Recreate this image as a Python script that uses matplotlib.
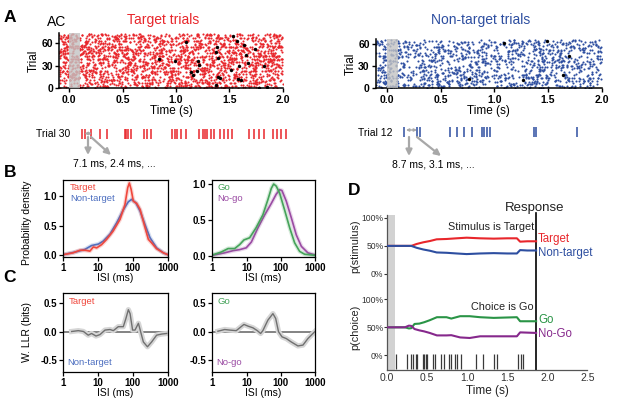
import numpy as np
import matplotlib
matplotlib.use("Agg")
import matplotlib.pyplot as plt
import matplotlib.transforms as mtransforms
from matplotlib.patches import FancyArrowPatch

plt.rcParams['font.family'] = ['Liberation Sans', 'DejaVu Sans']

W, H = 617, 413

RED = '#e8262b'
BLUE = '#2d4ea0'
RED_B = '#f0473c'
BLUE_B = '#4d6fc0'
GREEN = '#2a9446'
GREEN_B = '#45a35a'
PURPLE = '#86288c'
PURPLE_B = '#9a4ba3'
GRAY = '#a8a8a8'

# ---------------- panel A ----------------
n_target_trials = 73
n_nontarget_trials = 66
trial30_spikes = [0.121, 0.146, 0.20, 0.287, 0.355, 0.52, 0.536, 0.551, 0.583,
                  0.698, 0.733, 0.77, 0.962, 0.988, 1.013, 1.044, 1.097, 1.22,
                  1.252, 1.268, 1.293, 1.33, 1.361, 1.408, 1.448, 1.486, 1.523,
                  1.688, 1.735, 1.782, 1.822, 1.906, 1.944, 1.985, 2.032]
trial12_spikes = [0.159, 0.28, 0.31, 0.585, 0.647, 0.718, 0.787, 0.88, 0.905,
                  0.927, 0.958, 1.368, 1.387, 1.767]
target_black_t = [1.097, 1.206, 0.994, 0.841, 1.144, 1.159, 1.2, 1.215, 1.378,
                  1.393, 1.38, 1.393, 1.408, 1.371, 1.533, 1.57, 1.642, 1.742,
                  1.658, 1.673, 1.595, 1.518, 1.58, 1.611, 1.829, 1.854, 1.782]
target_black_trial = [61.3, 35.8, 36.7, 39, 21, 17.9, 23.3, 30.9, 47.9, 40.3,
                      54.6, 15.6, 13.4, 4.4, 69.4, 62.7, 56.9, 52.4, 44.8, 33.6,
                      30, 23.7, 12.1, 11.2, 29, 2.2, 0.8]
nontarget_black_t = [0.765, 1.092, 1.493, 1.698, 1.269, 1.642]
nontarget_black_trial = [12.1, 61.4, 63.7, 43.5, 11.2, 17.9]

# ---------------- panel B ----------------
b_tgt_isi = [1, 1.9, 3.0, 4.2, 5.8, 7.3, 9.1, 12.6, 17.6, 27, 42.7, 59, 71, 79,
             89, 103, 129, 161, 223, 278, 345, 480, 754, 1000]
b_tgt_pd = [0.01, 0.04, 0.085, 0.085, 0.07, 0.14, 0.125, 0.18, 0.27, 0.41, 0.61,
            0.86, 1.15, 1.23, 1.12, 0.92, 0.88, 0.78, 0.47, 0.27, 0.21, 0.11,
            0.04, 0.01]
b_non_isi = [1, 2.4, 4.2, 6.5, 10.2, 14, 22, 34, 54, 74, 92, 122, 161, 223, 309,
             480, 754, 1000]
b_non_pd = [0.01, 0.06, 0.10, 0.165, 0.19, 0.24, 0.36, 0.55, 0.78, 0.91, 0.95,
            0.89, 0.75, 0.52, 0.30, 0.125, 0.04, 0.01]
b_go_isi = [1, 1.8, 2.9, 4.5, 6.3, 8.4, 12.3, 19, 30, 42, 53, 62, 74, 93, 129,
            182, 254, 356, 500, 1000]
b_go_pd = [0.01, 0.05, 0.10, 0.10, 0.155, 0.22, 0.25, 0.39, 0.57, 0.78, 0.94,
           1.0, 0.97, 0.87, 0.64, 0.39, 0.18, 0.06, 0.02, 0.005]
b_nogo_isi = [1, 2.3, 4.0, 6.3, 9.8, 13.8, 21.6, 34, 53, 74, 93, 108, 145, 203,
              284, 400, 620, 1000]
b_nogo_pd = [0.005, 0.04, 0.07, 0.085, 0.11, 0.19, 0.39, 0.57, 0.73, 0.86, 0.92,
             0.91, 0.76, 0.53, 0.29, 0.13, 0.04, 0.01]

# ---------------- panel C ----------------
c_stim_isi = [1.74, 2.7, 3.8, 5.2, 6.5, 8.7, 11.3, 15.8, 22, 27.4, 38, 53, 63,
              74, 83, 98, 115, 144, 167, 200, 262, 345, 480, 674, 940]
c_stim_llr = [0.005, 0.02, 0.005, -0.06, -0.03, -0.075, -0.05, 0.03, 0.04, 0.02,
              0.09, 0.09, 0.235, 0.39, 0.32, 0.03, 0.03, 0.15, 0.0, -0.18,
              -0.265, -0.18, -0.06, -0.04, -0.03]
c_choice_isi = [1.46, 2.3, 3.2, 5.0, 8.4, 11, 15.4, 20.6, 25.8, 30, 42, 59, 71,
                86, 109, 145, 203, 317, 445, 620, 980]
c_choice_llr = [0.01, 0.04, 0.03, 0.02, 0.13, 0.10, 0.07, 0.02, -0.03, 0.02,
                0.205, 0.32, 0.235, 0.0, -0.09, -0.12, -0.18, -0.25, -0.235,
                -0.12, 0.0]

# ---------------- panel D ----------------
d_time_stim = [0, 0.30, 0.367, 0.45, 0.534, 0.617, 0.742, 0.867, 0.992, 1.16,
               1.33, 1.5, 1.62, 1.66, 1.75, 1.86]
p_target = [50, 50, 53.4, 56.4, 58.7, 61.7, 62.3, 63.5, 64.6, 63.5, 62.9, 63.5,
            63.5, 57.5, 58.2, 58.2]
p_nontarget = [50, 50, 46.6, 43.6, 41.3, 38.3, 37.7, 36.5, 35.4, 36.5, 37.1,
               36.5, 36.5, 42.5, 41.8, 41.8]
d_time_choice = [0, 0.22, 0.27, 0.30, 0.34, 0.40, 0.46, 0.53, 0.62, 0.74, 0.80,
                 0.91, 1.03, 1.16, 1.33, 1.62, 1.66, 1.86]
p_go = [50, 50, 48, 48.5, 56, 56.6, 59, 62.6, 68, 68, 65.6, 69.8, 69.8, 68,
        66.8, 68, 60.8, 60.8]
p_nogo = [50, 50, 53, 52.5, 47, 44.6, 42.8, 40, 35.6, 35.6, 36, 32, 31, 34, 34,
          34, 41, 40]
d_spikes = [0.105, 0.24, 0.29, 0.325, 0.355, 0.37, 0.44, 0.46, 0.48, 0.50,
            0.575, 0.60, 0.67, 0.71, 0.77, 0.79, 0.84, 0.87, 0.92, 1.105, 1.20,
            1.33, 1.375, 1.63, 1.67, 1.70]
response_time = 1.86
choice_offset = -145   # choice block is drawn below the stimulus block


def box(x0, y0, x1, y1):
    return [x0 / W, 1 - y1 / H, (x1 - x0) / W, (y1 - y0) / H]


def fp(x, y):
    return (x / W, 1 - y / H)


def ftext(x, y, s, **kw):
    kw.setdefault('va', 'center')
    fig.text(x / W, 1 - y / H, s, **kw)


def arrow(p0, p1, style='-|>', ms=9, lw=1.6):
    a = FancyArrowPatch(fp(*p0), fp(*p1), transform=fig.transFigure,
                        arrowstyle=style, mutation_scale=ms, color=GRAY,
                        lw=lw, shrinkA=0, shrinkB=0)
    fig.add_artist(a)


def bold_ticks(ax, size):
    for lab in ax.get_xticklabels() + ax.get_yticklabels():
        lab.set_fontweight('bold')
        lab.set_fontsize(size)


fig = plt.figure(figsize=(W / 100, H / 100), dpi=100)

# ---------- A: rasters ----------
# raster dots are far too dense to read one by one, so they are a fixed-seed texture
rng = np.random.default_rng(3)


def raster(ax, n_trials, rate, color, t0):
    ts, ys = [], []
    for k in range(n_trials):
        n = rng.poisson(rate * (2.0 - t0))
        ts.append(rng.uniform(t0, 2.0, n))
        ys.append(np.full(n, k + 0.5))
    ax.scatter(np.concatenate(ts), np.concatenate(ys), s=2.3, c=color,
               linewidths=0, zorder=2)


for (x0, x1, ytop, t0, ntr, rate, col, bt, by, title, tx) in [
        (59.3, 282.7, 33.0, -0.093, n_target_trials, 14, RED,
         target_black_t, target_black_trial, 'Target trials', 163),
        (376.0, 601.7, 39.3, -0.105, n_nontarget_trials, 8.5, BLUE,
         nontarget_black_t, nontarget_black_trial, 'Non-target trials', 481)]:
    ax = fig.add_axes(box(x0, ytop, x1, 88.3))
    raster(ax, ntr, rate, col, t0)
    ax.scatter(bt, by, s=6, c='k', linewidths=0, zorder=4)
    ax.axvspan(0, 0.1, color='#c4c4c4', alpha=0.8, lw=0, zorder=3)
    ax.set_xlim(t0, 2.0)
    ax.set_ylim(0, ntr + 0.5)
    ax.set_xticks([0, 0.5, 1.0, 1.5, 2.0])
    ax.set_xticklabels(['0.0', '0.5', '1.0', '1.5', '2.0'])
    ax.set_yticks([0, 30, 60])
    for s in ['top', 'right']:
        ax.spines[s].set_visible(False)
    for s in ['left', 'bottom']:
        ax.spines[s].set_linewidth(1.1)
    ax.tick_params(direction='out', length=3, width=1, pad=1.5)
    bold_ticks(ax, 7.5)
    ax.set_xlabel('Time (s)', fontsize=8.5, labelpad=0)
    ax.set_ylabel('Trial', fontsize=8.5, labelpad=1)
    ftext(tx, 20, title, color=col, fontsize=10, ha='center')

ftext(57, 22, 'AC', fontsize=10, ha='center')

# example trials
ax = fig.add_axes(box(59.3, 129, 282.7, 139))
ax.vlines(trial30_spikes, 0, 1, color=RED, lw=1.1, clip_on=False)
ax.set_xlim(-0.093, 2.0)
ax.set_ylim(0, 1)
ax.axis('off')
ax = fig.add_axes(box(376.0, 127, 601.7, 137))
ax.vlines(trial12_spikes, 0, 1, color=BLUE, lw=1.1, clip_on=False)
ax.set_xlim(-0.105, 2.0)
ax.set_ylim(0, 1)
ax.axis('off')

ftext(70, 134, 'Trial 30', fontsize=7.5, ha='right')
ftext(393, 133, 'Trial 12', fontsize=7.5, ha='right')
arrow((84.5, 133.5), (92, 133.5), style='<|-|>', ms=4, lw=1.0)
arrow((88, 137), (88, 155))
arrow((91, 137), (111, 155))
ftext(73, 164, '7.1 ms, 2.4 ms, ...', fontsize=7.5, ha='left')
arrow((406, 130), (417, 130), style='<|-|>', ms=4, lw=1.0)
arrow((409, 137), (409, 156))
arrow((417, 137), (441, 156))
ftext(392, 165, '8.7 ms, 3.1 ms, ...', fontsize=7.5, ha='left')


# ---------- B and C ----------
def isi_axes(x0, y0, x1, y1, ylim, yticks, ylabels):
    ax = fig.add_axes(box(x0, y0, x1, y1))
    ax.set_xscale('log')
    ax.set_xlim(1, 1000)
    ax.set_ylim(*ylim)
    ax.set_xticks([1, 10, 100, 1000])
    ax.set_xticklabels(['1', '10', '100', '1000'])
    ax.xaxis.set_minor_locator(matplotlib.ticker.NullLocator())
    ax.set_yticks(yticks)
    ax.set_yticklabels(ylabels)
    for s in ax.spines.values():
        s.set_linewidth(0.9)
    ax.tick_params(direction='out', length=3, width=0.9, pad=1.5)
    bold_ticks(ax, 7)
    ax.set_xlabel('ISI (ms)', fontsize=7.5, labelpad=0)
    return ax


def soft_line(ax, x, y, col):
    ax.plot(x, y, color=col, lw=3.0, alpha=0.22, solid_joinstyle='round')
    ax.plot(x, y, color=col, lw=1.2, solid_joinstyle='round')


axb1 = isi_axes(63.3, 180, 167.7, 257, (-0.03, 1.28), [0, 0.5, 1.0],
                ['0.0', '0.5', '1.0'])
soft_line(axb1, b_non_isi, b_non_pd, BLUE_B)
soft_line(axb1, b_tgt_isi, b_tgt_pd, RED_B)
axb1.set_ylabel('Probability density', fontsize=7.5)
axb1.yaxis.set_label_coords(-0.30, 0.45)

axb2 = isi_axes(212.3, 180, 315, 257, (-0.018, 1.056), [0, 0.5, 1.0],
                ['0.0', '0.5', '1.0'])
soft_line(axb2, b_nogo_isi, b_nogo_pd, PURPLE_B)
soft_line(axb2, b_go_isi, b_go_pd, GREEN_B)

axc1 = isi_axes(63.3, 292.7, 167.7, 371.7, (-0.705, 0.69), [-0.5, 0, 0.5],
                ['-0.5', '0.0', '0.5'])
axc2 = isi_axes(212.3, 292.7, 315, 371.7, (-0.705, 0.69), [-0.5, 0, 0.5],
                ['-0.5', '0.0', '0.5'])
for ax, isi, llr in [(axc1, c_stim_isi, c_stim_llr), (axc2, c_choice_isi, c_choice_llr)]:
    ax.axhline(0, color='#6e6e6e', lw=1.2, zorder=1)
    ax.plot(isi, llr, color='#d6d6d6', lw=3.8, solid_joinstyle='round', zorder=2)
    ax.plot(isi, llr, color='#707070', lw=1.0, solid_joinstyle='round', zorder=3)
axc1.set_ylabel('W. LLR (bits)', fontsize=7.5)
axc1.yaxis.set_label_coords(-0.30, 0.5)

ftext(70, 187, 'Target', color=RED_B, fontsize=6.8, ha='left')
ftext(70, 198.5, 'Non-target', color=BLUE_B, fontsize=6.8, ha='left')
ftext(217.5, 187, 'Go', color=GREEN_B, fontsize=6.8, ha='left')
ftext(217.5, 198.5, 'No-go', color=PURPLE_B, fontsize=6.8, ha='left')
ftext(69, 301.5, 'Target', color=RED_B, fontsize=6.8, ha='left')
ftext(67.5, 362.5, 'Non-target', color=BLUE_B, fontsize=6.8, ha='left')
ftext(218, 301.5, 'Go', color=GREEN_B, fontsize=6.8, ha='left')
ftext(216.5, 362.5, 'No-go', color=PURPLE_B, fontsize=6.8, ha='left')

# ---------- D ----------
axd = fig.add_axes(box(387.3, 215, 587.3, 370))
axd.set_xlim(0, 2.5)
axd.set_ylim(-171, 105)
axd.axvspan(0, 0.1, color='#d2d2d2', lw=0, zorder=0)
axd.plot(d_time_stim, p_target, color=RED, lw=1.5, zorder=3)
axd.plot(d_time_stim, p_nontarget, color=BLUE, lw=1.5, zorder=3)
axd.plot(d_time_choice, np.array(p_go) + choice_offset, color=GREEN, lw=1.5, zorder=3)
axd.plot(d_time_choice, np.array(p_nogo) + choice_offset, color=PURPLE, lw=1.5, zorder=3)
axd.vlines(d_spikes, -169, -143, color='#3a3a3a', lw=0.9)
axd.axvline(response_time, ymin=0, ymax=1.013, color='k', lw=1.2, clip_on=False)
axd.set_yticks([100, 50, 0, 100 + choice_offset, 50 + choice_offset, choice_offset])
axd.set_yticklabels(['100%', '50%', '0%', '100%', '50%', '0%'])
axd.set_xticks([0, 0.5, 1.0, 1.5, 2.0, 2.5])
axd.set_xticklabels(['0.0', '0.5', '1.0', '1.5', '2.0', '2.5'])
for s in ['top', 'right']:
    axd.spines[s].set_visible(False)
for s in ['left', 'bottom']:
    axd.spines[s].set_color('#555555')
    axd.spines[s].set_linewidth(0.9)
axd.tick_params(axis='y', direction='out', length=2, width=0.8, pad=0.8,
                labelsize=6.2, colors='#333333')
axd.tick_params(axis='x', direction='out', length=0, pad=2.5,
                labelsize=7.5, colors='#333333')
axd.set_xlabel('Time (s)', fontsize=8.5, labelpad=1, color='#222222')
tr = mtransforms.blended_transform_factory(axd.transAxes, axd.transData)
axd.text(-0.158, 50, 'p(stimulus)', transform=tr, rotation=90, ha='center',
         va='center', fontsize=7.8, color='#222222')
axd.text(-0.158, 50 + choice_offset, 'p(choice)', transform=tr, rotation=90,
         ha='center', va='center', fontsize=7.8, color='#222222')

ftext(535, 208, 'Response', fontsize=9.5, ha='center', color='#222222')
ftext(534, 227, 'Stimulus is Target', fontsize=7.8, ha='right', color='#222222')
ftext(534, 306.5, 'Choice is Go', fontsize=7.8, ha='right', color='#222222')
ftext(538, 239, 'Target', fontsize=8.3, ha='left', color=RED)
ftext(538, 253, 'Non-target', fontsize=8.3, ha='left', color=BLUE)
ftext(538, 320, 'Go', fontsize=8.3, ha='left', color=GREEN)
ftext(538, 334, 'No-Go', fontsize=8.3, ha='left', color=PURPLE)

# panel letters
ftext(10, 17.5, 'A', fontsize=12.5, fontweight='bold', ha='center')
ftext(10, 173, 'B', fontsize=12.5, fontweight='bold', ha='center')
ftext(10, 277, 'C', fontsize=12.5, fontweight='bold', ha='center')
ftext(354, 191, 'D', fontsize=12.5, fontweight='bold', ha='center')

fig.savefig('out.png', dpi=100)
